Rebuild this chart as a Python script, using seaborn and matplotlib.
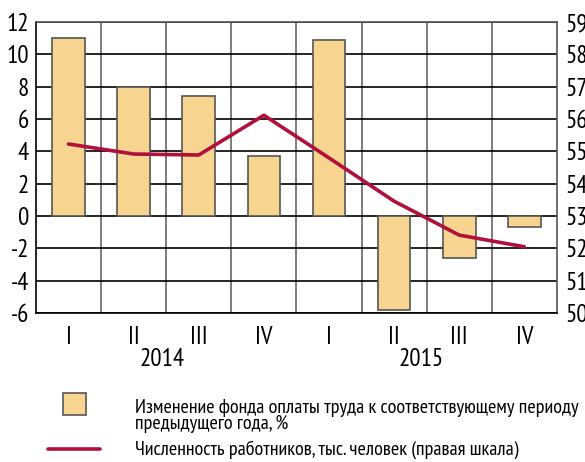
import numpy as np
import pandas as pd
import matplotlib
matplotlib.use("Agg")
import matplotlib.pyplot as plt
import seaborn as sns
from matplotlib.patches import Rectangle
from matplotlib.lines import Line2D

# данные
quarters = ["I-2014", "II-2014", "III-2014", "IV-2014",
            "I-2015", "II-2015", "III-2015", "IV-2015"]
quarter_labels = ["I", "II", "III", "IV", "I", "II", "III", "IV"]
years = ["2014", "2015"]
payroll_change = [11.0, 8.0, 7.4, 3.7, 10.9, -5.8, -2.6, -0.7]
employees = [552.3, 549.2, 548.9, 561.2, 548.0, 534.6, 524.1, 520.5]

left_ticks = list(range(-6, 13, 2))
right_ticks = list(range(500, 591, 10))

label_bar = "Изменение фонда оплаты труда к соответствующему периоду\nпредыдущего года, %"
label_line = "Численность работников, тыс. человек (правая шкала)"

sns.set_style("white", {"text.color": "black", "xtick.color": "black", "ytick.color": "black"})
plt.rcParams["font.family"] = ["PT Sans Narrow", "DejaVu Sans"]

bar_color = "#F8D491"
line_color = "#B0103A"

df = pd.DataFrame({"q": quarters, "pay": payroll_change, "emp": employees})
df["pos"] = np.arange(len(df))

fig = plt.figure(figsize=(5.85, 4.62), dpi=100)
ax = fig.add_axes([0.0615, 0.3225, 0.8905, 0.6295])

sns.barplot(data=df, x="q", y="pay", order=quarters, color=bar_color,
            width=0.5, edgecolor="#555555", linewidth=1.2, saturation=1, ax=ax)
ax.set_ylim(-6, 12)
ax.set_xlim(-0.5, len(quarters) - 0.5)
ax.set_yticks(left_ticks)
ax.set_yticklabels([str(t) for t in left_ticks], fontsize=18)
ax.set_xticks(np.arange(len(quarters)))
ax.set_xticklabels(quarter_labels, fontsize=18)
ax.set_xticks(np.arange(len(quarters) - 1) + 0.5, minor=True)
ax.set_xlabel("")
ax.set_ylabel("")
ax.set_axisbelow(True)
ax.grid(axis="y", which="major", color="black", linewidth=1.2)
ax.grid(axis="x", which="minor", color="#666666", linewidth=1.2)
ax.tick_params(axis="both", which="both", length=0, pad=5)
ax.tick_params(axis="x", pad=9)
for s in ax.spines.values():
    s.set_color("#555555")
    s.set_linewidth(1.2)
ax.spines["left"].set_color("black")
ax.spines["bottom"].set_color("black")

ax2 = ax.twinx()
sns.lineplot(data=df, x="pos", y="emp", color=line_color, linewidth=2.6, ax=ax2)
ax2.set_ylim(500, 590)
ax2.set_yticks(right_ticks)
ax2.set_yticklabels([str(t) for t in right_ticks], fontsize=18)
ax2.tick_params(axis="y", length=0, pad=6)
ax2.set_ylabel("")
ax2.set_xlabel("")
ax2.grid(False)
for s in ax2.spines.values():
    s.set_visible(False)

# годы под кварталами
ax.text(1.44, -0.16, years[0], transform=ax.get_xaxis_transform(),
        ha="center", va="center", fontsize=18)
ax.text(5.42, -0.16, years[1], transform=ax.get_xaxis_transform(),
        ha="center", va="center", fontsize=18)

# легенда
fig.add_artist(Rectangle((63 / 585, 1 - 415 / 462), 23 / 585, 22 / 462,
                         transform=fig.transFigure, facecolor=bar_color,
                         edgecolor="#555555", linewidth=1.2))
fig.add_artist(Line2D([48 / 585, 100 / 585], [1 - 449 / 462, 1 - 449 / 462],
                      transform=fig.transFigure, color=line_color, linewidth=2.6))
fig.text(135 / 585, 1 - 416 / 462, label_bar, ha="left", va="center",
         fontsize=14.5, linespacing=0.85)
fig.text(135 / 585, 1 - 450 / 462, label_line, ha="left", va="center", fontsize=14.5)

fig.savefig("out.png", dpi=100)
